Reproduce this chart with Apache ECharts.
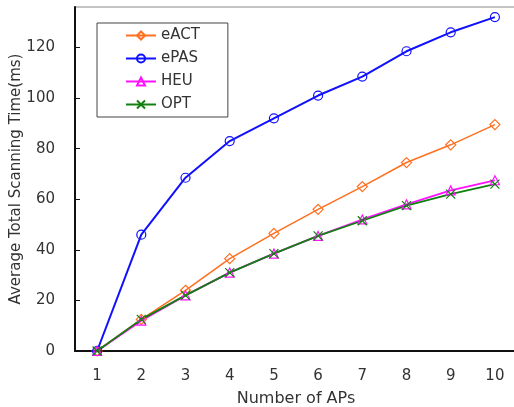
<!DOCTYPE html>
<html><head><meta charset="utf-8">
<script src="https://cdn.jsdelivr.net/npm/echarts@6/dist/echarts.min.js"></script>
<style>html,body{margin:0;padding:0;background:#fff}#c{width:514px;height:407px}</style>
</head><body><div id="c"></div>
<script>
const categories = ['1','2','3','4','5','6','7','8','9','10'];
const eACT = [0, 12.5, 24, 36.5, 46.5, 56, 65, 74.5, 81.5, 89.5];
const ePAS = [0, 46, 68.5, 83, 92, 101, 108.5, 118.5, 126, 132];
const HEU  = [0, 12, 22, 31, 38.5, 45.5, 52, 58, 63.5, 67.5];
const OPT  = [0, 12.5, 22, 31, 38.5, 45.5, 51.5, 57.5, 62, 66];

const font = 'DejaVu Sans';
const chart = echarts.init(document.getElementById('c'), null, {renderer: 'canvas'});
function mk(name, data, color, symbol, size, lw) {
  return {
    name, type: 'line', data, symbol, symbolSize: size, showSymbol: true,
    lineStyle: {color, width: lw},
    itemStyle: {color: 'rgba(0,0,0,0)', borderColor: color, borderWidth: 1.2},
    emphasis: {disabled: true}, animation: false
  };
}
chart.setOption({
  backgroundColor: '#fff',
  animation: false,
  grid: {left: 75, top: 7, right: -3, bottom: 56, show: true, borderColor: '#888', borderWidth: 1,
         containLabel: false, outerBoundsMode: 'none'},
  legend: {
    left: 97, top: 23, orient: 'vertical',
    padding: [5, 28, 5, 28], itemGap: 8, itemWidth: 30, itemHeight: 10,
    borderColor: '#444', borderWidth: 1,
    textStyle: {fontFamily: font, fontSize: 15, color: '#333'},
    data: ['eACT', 'ePAS', 'HEU', 'OPT']
  },
  xAxis: {
    type: 'category', data: categories, boundaryGap: true,
    name: 'Number of APs', nameLocation: 'middle', nameGap: 40, nameMoveOverlap: false,
    nameTextStyle: {fontFamily: font, fontSize: 16, color: '#333'},
    axisLine: {lineStyle: {color: '#111', width: 2}},
    axisTick: {inside: true, length: 5, lineStyle: {color: '#111'}},
    axisLabel: {fontFamily: font, fontSize: 15, color: '#333', margin: 18},
    splitLine: {show: false}
  },
  yAxis: {
    type: 'value', min: 0, max: 136, interval: 20,
    name: 'Average Total Scanning Time(ms)', nameLocation: 'middle', nameGap: 51, nameMoveOverlap: false,
    nameTextStyle: {fontFamily: font, fontSize: 15, color: '#333'},
    axisLine: {show: true, lineStyle: {color: '#111', width: 2}},
    axisTick: {show: true, inside: true, length: 5, lineStyle: {color: '#111'}},
    axisLabel: {fontFamily: font, fontSize: 15, color: '#333', margin: 20, showMaxLabel: false},
    splitLine: {show: false}
  },
  series: [
    mk('eACT', eACT, '#ff7020', 'diamond', 10, 1.6),
    mk('ePAS', ePAS, '#1010ff', 'circle', 9, 2),
    mk('HEU', HEU, '#ff10ff', 'triangle', 9, 1.8),
    mk('OPT', OPT, '#108010', 'path://M0,0L10,10M10,0L0,10', 9, 1.8)
  ]
});
</script></body></html>
